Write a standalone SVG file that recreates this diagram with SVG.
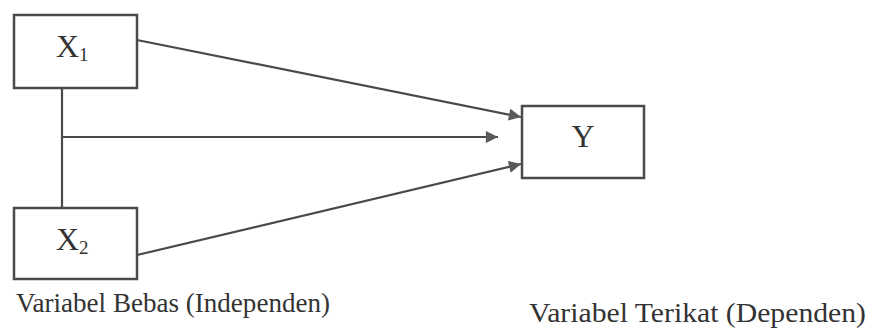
<svg xmlns="http://www.w3.org/2000/svg" width="873" height="334" viewBox="0 0 873 334">
<style>
.box{fill:#fff;stroke:#4a4a4a;stroke-width:2.5}
.ln{stroke:#4a4a4a;stroke-width:2.2;fill:none}
.t{font-family:"Liberation Serif","Times New Roman",serif;fill:#333;font-size:28px}
.big{font-size:32px}
.sub{font-size:19px}
</style>
<defs>
<marker id="ah" viewBox="0 0 10 10" refX="10" refY="5" markerWidth="6" markerHeight="5.5" markerUnits="strokeWidth" orient="auto">
<path d="M0,0 L10,5 L0,10 z" fill="#5a5a5a"/>
</marker>
</defs>
<rect width="873" height="334" fill="#fff"/>
<g id="connectors">
<line class="ln" x1="62" y1="88" x2="62" y2="208"/>
<line class="ln" x1="137" y1="40" x2="521" y2="117" marker-end="url(#ah)"/>
<line class="ln" x1="62" y1="137" x2="498" y2="137" marker-end="url(#ah)"/>
<line class="ln" x1="137" y1="255" x2="521" y2="164" marker-end="url(#ah)"/>
</g>
<g id="x1">
<rect class="box" x="14" y="15" width="123" height="73"/>
<text class="t big" x="56" y="57">X<tspan class="sub" dy="4">1</tspan></text>
</g>
<g id="x2">
<rect class="box" x="14" y="208" width="123" height="71"/>
<text class="t big" x="56" y="250">X<tspan class="sub" dy="4">2</tspan></text>
</g>
<g id="y">
<rect class="box" x="522" y="106" width="122" height="72"/>
<text class="t big" x="583" y="147" text-anchor="middle">Y</text>
</g>
<text class="t" x="16" y="312" textLength="314" lengthAdjust="spacingAndGlyphs">Variabel Bebas (Independen)</text>
<text class="t" x="529" y="322" textLength="337" lengthAdjust="spacingAndGlyphs">Variabel Terikat (Dependen)</text>
</svg>
